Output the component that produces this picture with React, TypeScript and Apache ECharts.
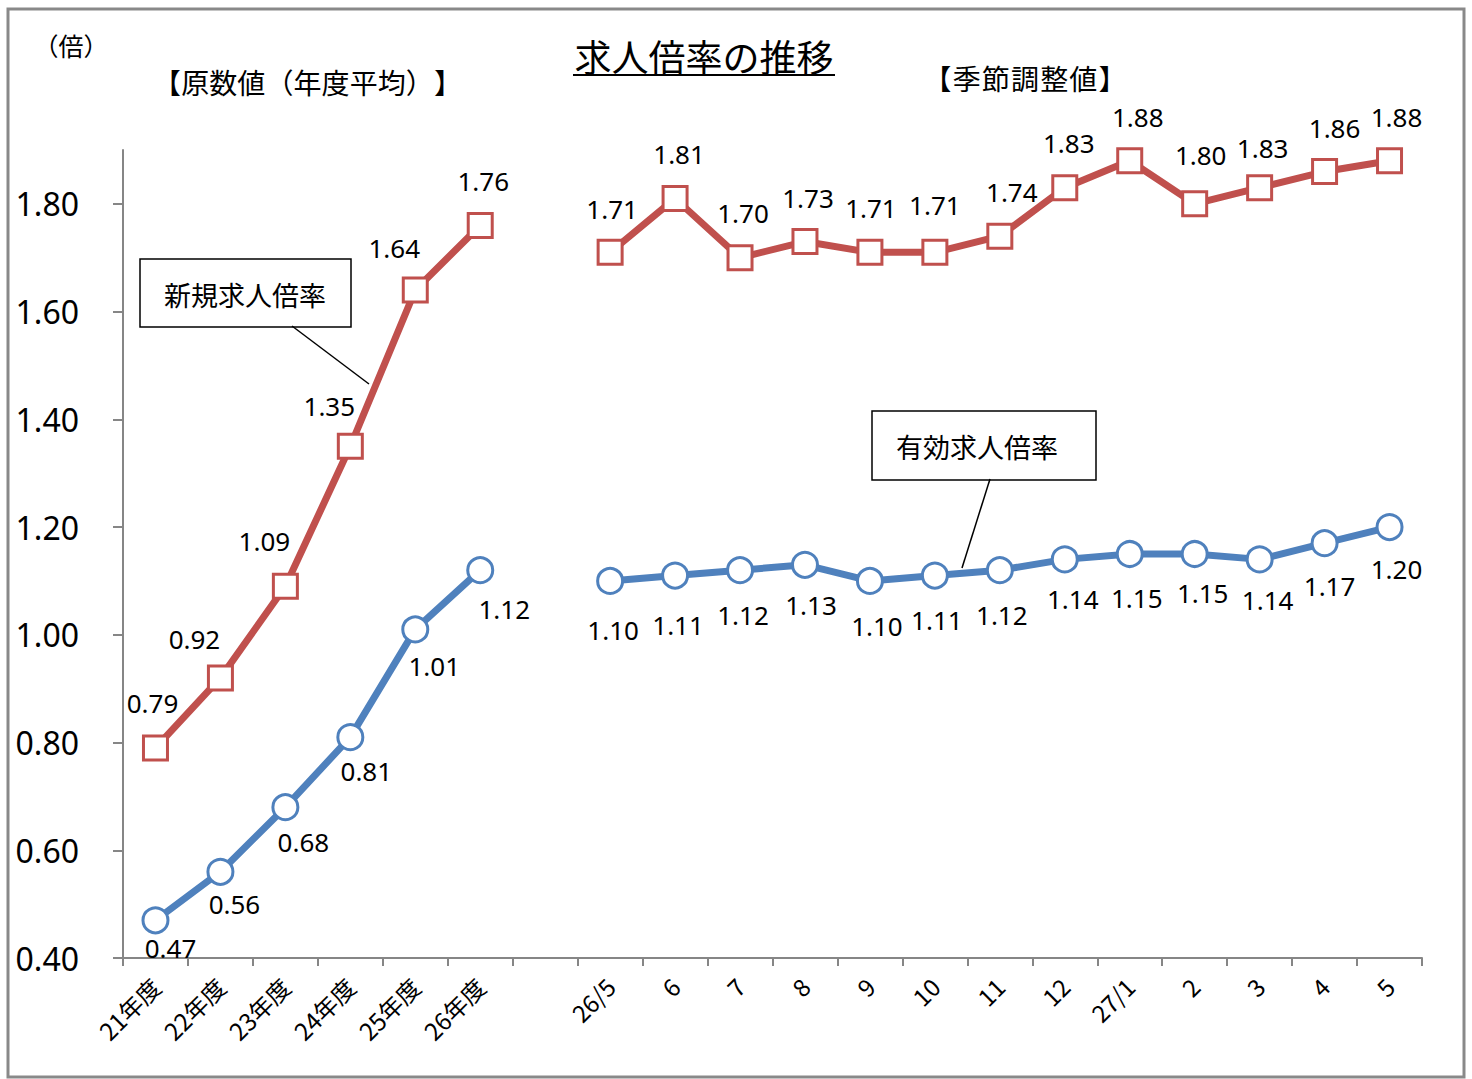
import React, { useEffect, useRef } from 'react';
import * as echarts from 'echarts';

const categories = ['21年度', '22年度', '23年度', '24年度', '25年度', '26年度', '', '26/5', '6', '7', '8', '9', '10', '11', '12', '27/1', '2', '3', '4', '5'];
const newRatio: (number | null)[] = [0.79, 0.92, 1.09, 1.35, 1.64, 1.76, null, 1.71, 1.81, 1.70, 1.73, 1.71, 1.71, 1.74, 1.83, 1.88, 1.80, 1.83, 1.86, 1.88];
const effRatio: (number | null)[] = [0.47, 0.56, 0.68, 0.81, 1.01, 1.12, null, 1.10, 1.11, 1.12, 1.13, 1.10, 1.11, 1.12, 1.14, 1.15, 1.15, 1.14, 1.17, 1.20];
const yTicks = [0.4, 0.6, 0.8, 1.0, 1.2, 1.4, 1.6, 1.8];

// label offsets (style only)
const redOff = [[-3, -45], [-26, -39], [-21, -45], [-21, -40], [-21, -42], [3, -44], [0, 0], [2, -43], [4, -44], [3, -45], [3, -44], [1, -44], [0, -47], [12, -44], [4, -45], [8, -44], [6, -49], [3, -40], [10, -44], [7, -44]];
const blueOff = [[15, 28], [14, 32], [18, 35], [16, 34], [19, 37], [24, 39], [0, 0], [3, 49], [3, 49], [3, 45], [6, 40], [7, 45], [2, 44], [2, 45], [8, 40], [7, 44], [8, 39], [8, 41], [5, 43], [7, 42]];

const RED = '#C0504D';
const BLUE = '#4F81BD';
const NUM_FONT = 'Noto Sans, sans-serif';
const JP_FONT = '"Noto Sans CJK JP", sans-serif';

function txt(text: string, x: number, y: number, size: number, extra: any = {}) {
  return {
    type: 'text',
    z: 10,
    style: {
      text, x, y,
      fill: '#000',
      fontSize: size,
      fontFamily: JP_FONT,
      textAlign: 'center',
      textVerticalAlign: 'middle',
      align: 'center',
      verticalAlign: 'middle',
      ...extra,
    },
  };
}

// evenly spaced characters (full-width pitch)
function spaced(text: string, x0: number, x1: number, y: number, size: number) {
  const chars = Array.from(text);
  const pitch = (x1 - x0) / chars.length;
  return chars.map((c, i) => txt(c, x0 + pitch * (i + 0.5), y, size));
}

export default function App() {
  const ref = useRef<HTMLDivElement>(null);
  useEffect(() => {
    if (!ref.current) return;
    const chart = echarts.init(ref.current, null, { renderer: 'svg' });
    const mk = (arr: (number | null)[], off: number[][]) =>
      arr.map((v, i) => (v == null ? '-' : { value: v, label: { offset: off[i] } }));
    const labelBase = {
      show: true,
      position: 'inside',
      color: '#000',
      fontSize: 26,
      fontFamily: NUM_FONT,
      formatter: (p: any) => Number(p.value).toFixed(2),
    };
    const option: any = {
      animation: false,
      backgroundColor: '#fff',
      grid: { left: 123, right: 50, top: 150, bottom: 121, containLabel: false },
      xAxis: {
        type: 'category',
        data: categories,
        boundaryGap: true,
        axisLine: { show: true, lineStyle: { color: '#868686', width: 2 } },
        axisTick: { show: true, interval: 0, length: 8, lineStyle: { color: '#868686', width: 2 } },
        axisLabel: { interval: 0, rotate: 45, fontSize: 24, color: '#000', margin: 24, fontFamily: JP_FONT },
        splitLine: { show: false },
      },
      yAxis: {
        type: 'value',
        min: 0.4,
        max: 1.9,
        interval: 0.2,
        axisLine: { show: true, lineStyle: { color: '#868686', width: 2 } },
        axisTick: { show: true, length: 10, customValues: yTicks, lineStyle: { color: '#868686', width: 2 } },
        axisLabel: {
          customValues: yTicks,
          formatter: (v: number) => v.toFixed(2),
          fontSize: 32,
          color: '#000',
          margin: 44,
          fontFamily: NUM_FONT,
        },
        splitLine: { show: false },
      },
      series: [
        {
          type: 'line',
          data: mk(newRatio, redOff),
          connectNulls: false,
          symbol: 'rect',
          symbolSize: 24,
          showAllSymbol: true,
          lineStyle: { color: RED, width: 7 },
          itemStyle: { color: '#fff', borderColor: RED, borderWidth: 3 },
          label: labelBase,
          z: 3,
        },
        {
          type: 'line',
          data: mk(effRatio, blueOff),
          connectNulls: false,
          symbol: 'circle',
          symbolSize: 25,
          showAllSymbol: true,
          lineStyle: { color: BLUE, width: 7 },
          itemStyle: { color: '#fff', borderColor: BLUE, borderWidth: 3 },
          label: labelBase,
          z: 3,
        },
      ],
      graphic: [
        { type: 'rect', z: 0, shape: { x: 8, y: 9, width: 1456, height: 1068 }, style: { fill: 'none', stroke: '#898989', lineWidth: 3 } },
        txt('（倍）', 71, 45, 25),
        ...spaced('【原数値（年度平均）】', 153, 462, 82, 28),
        txt('求人倍率の推移', 704, 56, 37),
        { type: 'line', z: 10, shape: { x1: 573, y1: 75, x2: 835, y2: 75 }, style: { stroke: '#000', lineWidth: 2 } },
        ...spaced('【季節調整値】', 923, 1127, 78, 28),
        { type: 'rect', z: 10, shape: { x: 140, y: 259, width: 211, height: 68 }, style: { fill: '#fff', stroke: '#000', lineWidth: 1.5 } },
        txt('新規求人倍率', 245, 294, 27),
        { type: 'line', z: 10, shape: { x1: 292, y1: 326, x2: 369, y2: 384 }, style: { stroke: '#000', lineWidth: 1.5 } },
        { type: 'rect', z: 10, shape: { x: 872, y: 411, width: 224, height: 69 }, style: { fill: '#fff', stroke: '#000', lineWidth: 1.5 } },
        txt('有効求人倍率', 977, 446, 27),
        { type: 'line', z: 10, shape: { x1: 990, y1: 479, x2: 962, y2: 568 }, style: { stroke: '#000', lineWidth: 1.5 } },
      ],
    };
    chart.setOption(option);
    return () => chart.dispose();
  }, []);
  return <div ref={ref} style={{ position: 'absolute', left: 0, top: 0, width: 1472, height: 1079 }} />;
}
